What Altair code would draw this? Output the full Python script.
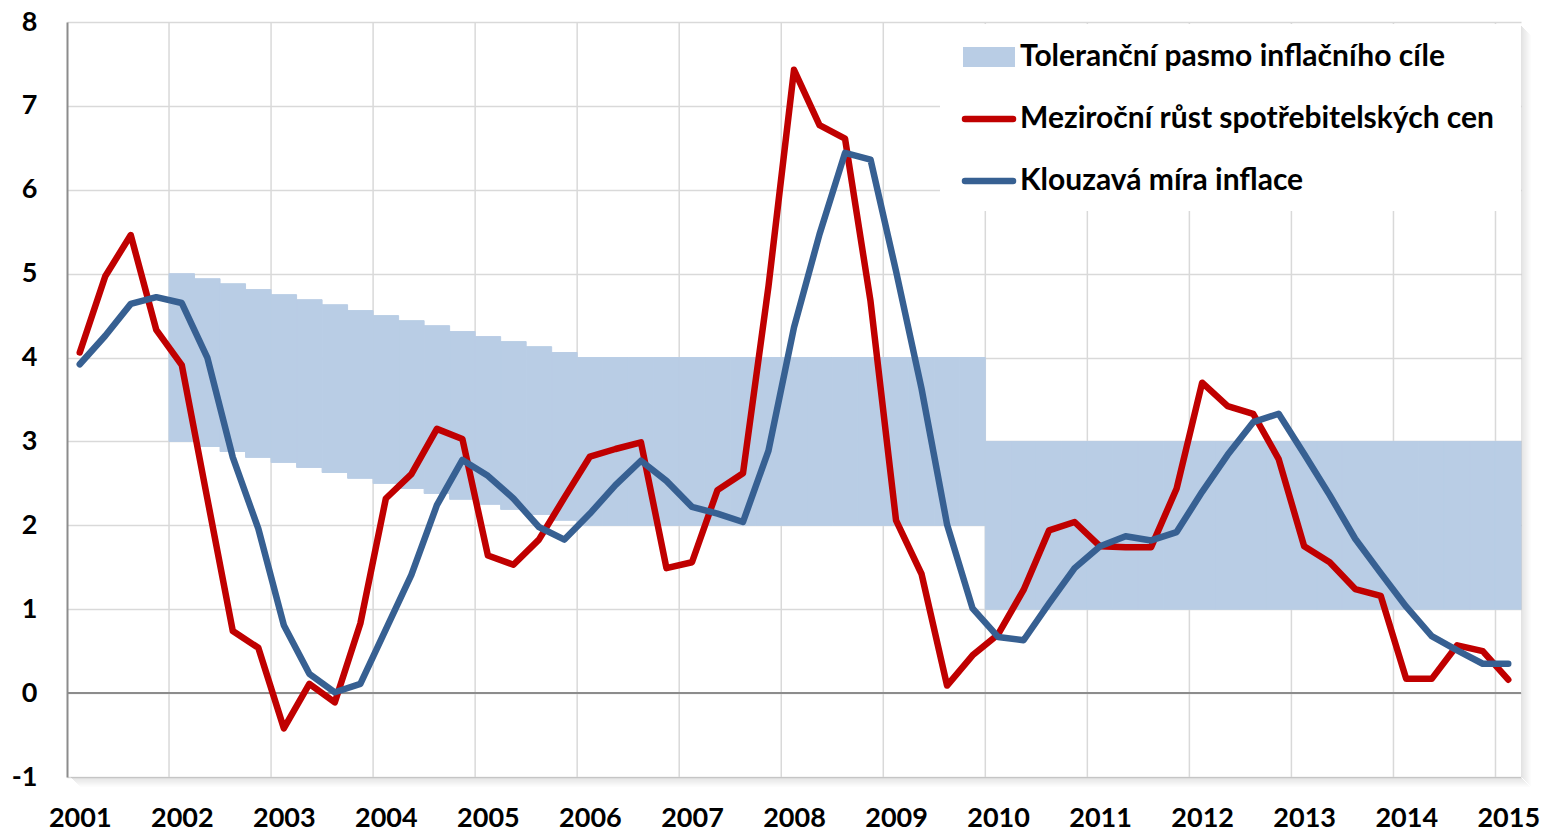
import json
import altair as alt
import pandas as pd

# ---------------- data ----------------
year_labels = ["2001", "2002", "2003", "2004", "2005", "2006", "2007", "2008",
               "2009", "2010", "2011", "2012", "2013", "2014", "2015"]

# quarterly, 2001Q1 .. 2015Q1
cpi_yoy = [4.06, 4.97, 5.46, 4.33, 3.91, 2.32, 0.74, 0.54, -0.42, 0.11, -0.11, 0.83,
           2.32, 2.61, 3.15, 3.03, 1.64, 1.53, 1.83, 2.33, 2.82, 2.91, 2.99, 1.49, 1.56,
           2.42, 2.62, 4.85, 7.43, 6.77, 6.61, 4.67, 2.06, 1.42, 0.09, 0.45, 0.70,
           1.23, 1.94, 2.04, 1.75, 1.74, 1.74, 2.44, 3.70, 3.42, 3.33, 2.79,
           1.75, 1.56, 1.24, 1.16, 0.17, 0.17, 0.57, 0.50, 0.16]

moving_avg = [3.92, 4.26, 4.64, 4.72, 4.65, 4.00, 2.81, 1.96, 0.81, 0.23, 0.01, 0.11,
              0.76, 1.41, 2.24, 2.78, 2.59, 2.32, 1.98, 1.83, 2.14, 2.48, 2.77, 2.53, 2.22,
              2.14, 2.04, 2.89, 4.36, 5.47, 6.44, 6.36, 5.03, 3.63, 2.01, 1.01, 0.67,
              0.63, 1.07, 1.49, 1.75, 1.87, 1.82, 1.92, 2.40, 2.84, 3.23, 3.33,
              2.85, 2.36, 1.84, 1.43, 1.03, 0.68, 0.51, 0.35, 0.35]

# tolerance band, from 2002Q1 (quarter index 4) to 2015Q1
band_first_quarter = 4
band_high = ([5.00, 4.94, 4.88, 4.81, 4.75, 4.69, 4.63, 4.56,
              4.50, 4.44, 4.38, 4.31, 4.25, 4.19, 4.13, 4.06]
             + [4.00] * 16 + [3.00] * 21)
band_low = ([3.00, 2.94, 2.88, 2.81, 2.75, 2.69, 2.63, 2.56,
             2.50, 2.44, 2.38, 2.31, 2.25, 2.19, 2.13, 2.06]
            + [2.00] * 16 + [1.00] * 21)

series_names = ["Toleranční pasmo inflačního cíle",
                "Meziroční růst spotřebitelských cen",
                "Klouzavá míra inflace"]
colors = ["#B9CDE5", "#C00000", "#376092"]

FONT = "Lato"

# ---------------- frames ----------------
n = len(cpi_yoy)
df_red = pd.DataFrame({"q": list(range(n)), "v": cpi_yoy})
df_blue = pd.DataFrame({"q": list(range(n)), "v": moving_avg})
bq = list(range(band_first_quarter, band_first_quarter + len(band_high)))
df_band = pd.DataFrame({"q0": [q - 0.5 for q in bq], "q1": [q + 0.5 for q in bq],
                        "lo": band_low, "hi": band_high})
df_vgrid = pd.DataFrame({"b": [4 * i + 3.5 for i in range(len(year_labels) - 1)]})

W, H = 1454, 755
TOP = 14
xscale = alt.Scale(domain=[-0.5, n - 0.5], nice=False, zero=False)
yscale = alt.Scale(domain=[-1, 8], nice=False, zero=False)

label_expr = json.dumps(year_labels) + "[round(datum.value / 4)]"

xaxis = alt.Axis(values=[4 * i for i in range(len(year_labels))], labelExpr=label_expr,
                 grid=False, domain=False, ticks=False, labelPadding=28,
                 labelFont=FONT, labelFontSize=27, labelFontWeight="bold",
                 labelColor="black", title=None)
yaxis = alt.Axis(values=list(range(-1, 9)), grid=True, gridColor="#D9D9D9", gridWidth=1.5,
                 domain=True, domainColor="#8C8C8C", domainWidth=2, ticks=False,
                 labelPadding=30, labelFont=FONT, labelFontSize=27, labelFontWeight="bold",
                 labelColor="black", title=None,
                 labelExpr="datum.value < 0 ? '-' + abs(datum.value) : '' + datum.value")

base_axes = alt.Chart(df_red).mark_point(opacity=0).encode(
    x=alt.X("q:Q", scale=xscale, axis=xaxis),
    y=alt.Y("v:Q", scale=yscale, axis=yaxis),
)

vgrid = alt.Chart(df_vgrid).mark_rule(color="#D9D9D9", strokeWidth=1.5).encode(
    x=alt.X("b:Q", scale=xscale)
)

band = alt.Chart(df_band).mark_rect(color=colors[0], stroke=colors[0], strokeWidth=1).encode(
    x=alt.X("q0:Q", scale=xscale), x2="q1:Q",
    y=alt.Y("lo:Q", scale=yscale), y2="hi:Q"
)

zero = alt.Chart(pd.DataFrame({"z": [0]})).mark_rule(color="#8C8C8C", strokeWidth=2).encode(
    y=alt.Y("z:Q", scale=yscale)
)

red = alt.Chart(df_red).mark_line(color=colors[1], strokeWidth=6.5, strokeJoin="round",
                                  strokeCap="round").encode(
    x=alt.X("q:Q", scale=xscale), y=alt.Y("v:Q", scale=yscale)
)
blue = alt.Chart(df_blue).mark_line(color=colors[2], strokeWidth=6.5, strokeJoin="round",
                                    strokeCap="round").encode(
    x=alt.X("q:Q", scale=xscale), y=alt.Y("v:Q", scale=yscale)
)

# ---------------- shadow of plot area ----------------
one = alt.Data(values=[{}])
shadow_layers = []
for i in range(10):
    op = 0.22 * (1 - i / 10)
    shadow_layers.append(alt.Chart(one).mark_rect(color="#808080", opacity=op).encode(
        x=alt.value(W + i), x2=alt.value(W + i + 1), y=alt.value(4 + i), y2=alt.value(H + i)))
    shadow_layers.append(alt.Chart(one).mark_rect(color="#808080", opacity=op).encode(
        x=alt.value(4 + i), x2=alt.value(W + i), y=alt.value(H + i), y2=alt.value(H + i + 1)))

# ---------------- legend ----------------
LX0, LX1 = 873, W
leg_bg = alt.Chart(one).mark_rect(color="white").encode(
    x=alt.value(LX0), x2=alt.value(LX1), y=alt.value(2), y2=alt.value(189))
leg_rect = alt.Chart(one).mark_rect(color=colors[0]).encode(
    x=alt.value(896), x2=alt.value(948), y=alt.value(25), y2=alt.value(45))
leg_red = alt.Chart(one).mark_rule(color=colors[1], strokeWidth=6.5, strokeCap="round").encode(
    x=alt.value(898), x2=alt.value(946), y=alt.value(97))
leg_blue = alt.Chart(one).mark_rule(color=colors[2], strokeWidth=6.5, strokeCap="round").encode(
    x=alt.value(898), x2=alt.value(946), y=alt.value(159))
leg_texts = []
for name, yy in zip(series_names, [35, 97, 159]):
    leg_texts.append(alt.Chart(one).mark_text(
        text=name, align="left", baseline="middle", font=FONT, fontSize=30,
        fontWeight="bold", color="black").encode(x=alt.value(953), y=alt.value(yy)))

chart = alt.layer(
    base_axes, vgrid, band, zero, red, blue, *shadow_layers,
    leg_bg, leg_rect, leg_red, leg_blue, *leg_texts
).properties(
    width=W, height=H,
    padding={"left": 59, "top": TOP, "right": 20, "bottom": 54},
    autosize=alt.AutoSizeParams(type="none"),
    background="white",
).configure_view(stroke=None)

chart.save("out.html", embed_options={"renderer": "svg", "actions": False})
